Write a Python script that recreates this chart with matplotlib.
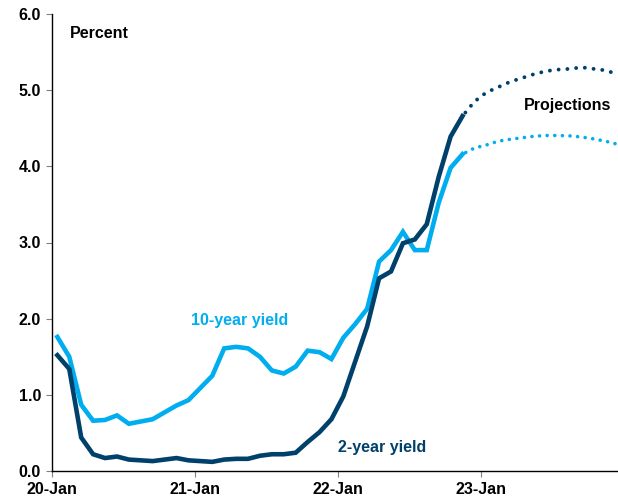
import numpy as np
import matplotlib.pyplot as plt

# monthly data, Jan 2020 .. Nov 2022
yield_10y = [1.76, 1.50, 0.87, 0.66, 0.67, 0.73, 0.62, 0.65, 0.68, 0.77, 0.86, 0.93,
             1.09, 1.25, 1.61, 1.63, 1.61, 1.50, 1.32, 1.28, 1.37, 1.58, 1.56, 1.47,
             1.75, 1.93, 2.13, 2.75, 2.90, 3.14, 2.90, 2.90, 3.52, 3.98, 4.16]
yield_2y = [1.52, 1.34, 0.44, 0.22, 0.17, 0.19, 0.15, 0.14, 0.13, 0.15, 0.17, 0.14,
            0.13, 0.12, 0.15, 0.16, 0.16, 0.20, 0.22, 0.22, 0.24, 0.38, 0.51, 0.68,
            0.98, 1.44, 1.90, 2.53, 2.62, 2.99, 3.04, 3.24, 3.86, 4.39, 4.66]
# projections Dec 2022 .. Dec 2023
proj_10y = [4.24, 4.28, 4.33, 4.355, 4.375, 4.395, 4.405, 4.405, 4.40, 4.385, 4.36, 4.33, 4.29]
proj_2y = [4.85, 4.97, 5.04, 5.11, 5.16, 5.21, 5.25, 5.27, 5.28, 5.30, 5.28, 5.26, 5.21]
tick_labels = ['20-Jan', '21-Jan', '22-Jan', '23-Jan']

dark = '#00416B'
light = '#00AEEF'

plt.rcParams['font.family'] = ['Liberation Sans', 'DejaVu Sans']
plt.rcParams['font.weight'] = 'bold'

fig = plt.figure(figsize=(6.18, 4.99), dpi=100)
ax = fig.add_axes([52 / 618, 28 / 499, 566 / 618, 457 / 499])

n = len(yield_10y)
x = np.arange(n) + 0.45
xp = np.arange(n - 1, n + len(proj_2y)) + 0.45

ax.plot(x, yield_10y, color=light, lw=3.3, solid_joinstyle='miter')
ax.plot(x, yield_2y, color=dark, lw=3.3, solid_joinstyle='miter')
ax.plot(xp, [yield_10y[-1]] + proj_10y, color=light, lw=2.6,
        linestyle=(1.1, (0.01, 2.1)), dash_capstyle='round')
ax.plot(xp, [yield_2y[-1]] + proj_2y, color=dark, lw=2.8,
        linestyle=(1.1, (0.01, 2.25)), dash_capstyle='round')

ax.set_xlim(0, 47.5)
ax.set_ylim(0, 6)
ax.set_xticks([0, 12, 24, 36])
ax.set_xticklabels(tick_labels)
ax.set_yticks(np.arange(0, 7, 1))
ax.set_yticklabels(['%.1f' % v for v in np.arange(0, 7, 1)])
ax.tick_params(axis='both', direction='out', length=4, width=0.8, color='#808080',
               labelsize=11.5, pad=4)
for s in ['top', 'right']:
    ax.spines[s].set_visible(False)
for s in ['left', 'bottom']:
    ax.spines[s].set_linewidth(1.0)
    ax.spines[s].set_color('black')

ax.text(1.5, 5.75, 'Percent', fontsize=11.5, fontweight='bold', va='center')
ax.text(11.7, 1.98, '10-year yield', fontsize=11.5, fontweight='bold', color=light, va='center')
ax.text(24.0, 0.31, '2-year yield', fontsize=11.5, fontweight='bold', color=dark, va='center')
ax.text(39.6, 4.8, 'Projections', fontsize=11.5, fontweight='bold', va='center')

fig.savefig('out.png', dpi=100)
